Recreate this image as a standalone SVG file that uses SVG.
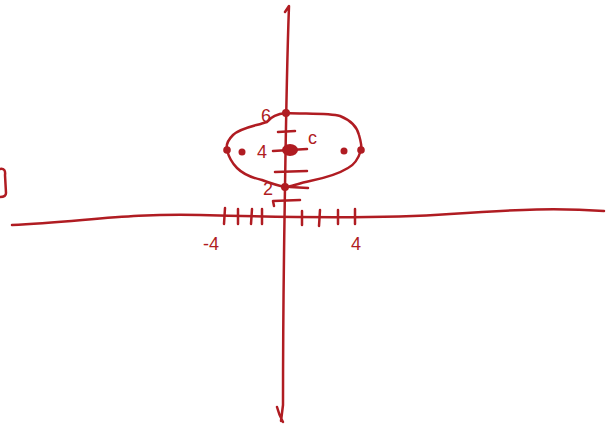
<svg xmlns="http://www.w3.org/2000/svg" width="610" height="426" viewBox="0 0 610 426">
<style>
.s{fill:none;stroke:#b01c22;stroke-width:2.5;stroke-linecap:round;stroke-linejoin:round}
.d{fill:#b01c22}
.t{font-family:"Liberation Sans",sans-serif;font-size:18px;fill:#b01c22}
</style>
<rect width="610" height="426" fill="#fff"/>
<g id="axes">
<path class="s" d="M12,225 C80,222 130,213 200,215 S380,219 450,214 S560,208 604,211"/>
<path class="s" d="M285,12 L289,6 C287,60 286,120 285,187 S283,300 283,405 L281,421 M277,407 Q279,415 283,422"/>
</g>
<g id="ticks">
<path class="s" d="M225,208 L224,224 M238,209 L238,224 M252,209 L251,224 M262,209 L262,224 M302,211 L302,225 M320,210 L319,226 M338,210 L338,224 M355,209 L355,224"/>
<path class="s" d="M274,206 L273,201 L300,200"/>
<path class="s" d="M278,132 L295,131 M273,151 L307,149 M275,172 L307,171 M290,187 L308,188"/>
</g>
<g id="ellipse">
<path class="s" d="M286,113 C275,114 270,118 267,122 C255,126 240,128 233,135 C228,140 226,146 227,150 C229,158 233,164 237,168 C244,175 253,178 262,180 C270,183 278,186 286,187"/>
<path class="s" d="M286,113 C305,114 330,113 340,116 C350,120 357,127 359,135 C361,142 362,147 361,150 C358,160 354,165 348,168 C335,176 320,179 310,181 C300,183 292,186 287,187"/>
</g>
<g id="points">
<circle class="d" cx="286" cy="113" r="4"/>
<circle class="d" cx="285" cy="187" r="4"/>
<circle class="d" cx="227" cy="150" r="3.8"/>
<circle class="d" cx="242" cy="152" r="3.5"/>
<circle class="d" cx="344" cy="151" r="3.5"/>
<circle class="d" cx="361" cy="150" r="3.8"/>
<ellipse class="d" cx="290" cy="150" rx="8" ry="6"/>
</g>
<g id="labels">
<text class="t" x="261" y="122">6</text>
<text class="t" x="257" y="158">4</text>
<text class="t" x="263" y="195">2</text>
<text class="t" x="308" y="144">c</text>
<text class="t" x="203" y="250">-4</text>
<text class="t" x="351" y="250">4</text>
</g>
<g id="bracket">
<path class="s" d="M0,169 Q6,168 5,175 L6,193 Q6,197 0,197"/>
</g>
</svg>
